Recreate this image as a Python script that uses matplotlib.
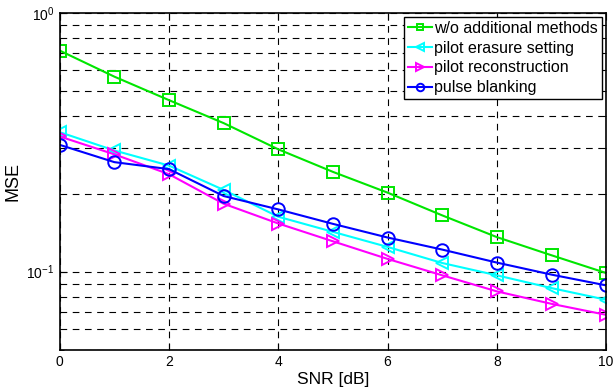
import numpy as np
import matplotlib
matplotlib.use('Agg')
import matplotlib.pyplot as plt
from matplotlib.ticker import LogLocator, NullFormatter

plt.rcParams['font.family'] = ['Liberation Sans', 'DejaVu Sans']

snr = [0, 1, 2, 3, 4, 5, 6, 7, 8, 9, 10]
mse_plain = [0.715, 0.567, 0.460, 0.375, 0.297, 0.243, 0.202, 0.165, 0.136, 0.1157, 0.0988]
mse_erasure = [0.346, 0.294, 0.257, 0.207, 0.163, 0.1425, 0.1246, 0.108, 0.0968, 0.0864, 0.0779]
mse_recon = [0.333, 0.284, 0.238, 0.183, 0.1535, 0.131, 0.112, 0.0968, 0.0839, 0.0751, 0.0681]
mse_blank = [0.309, 0.265, 0.249, 0.196, 0.174, 0.153, 0.1355, 0.1217, 0.1084, 0.0974, 0.0885]

labels = ['w/o additional methods', 'pilot erasure setting', 'pilot reconstruction', 'pulse blanking']

fig = plt.figure(figsize=(6.16, 3.91), dpi=100)
ax = fig.add_axes([0.097, 0.106, 0.887, 0.861])

ax.semilogy(snr, mse_plain, color='#00e600', marker='s', mfc='none', ms=8, mew=1.4, lw=1.5, label=labels[0])
ax.semilogy(snr, mse_erasure, color='#00ffff', marker='<', mfc='none', ms=9, mew=1.4, lw=1.5, label=labels[1])
ax.semilogy(snr, mse_recon, color='#ff00ff', marker='>', mfc='none', ms=9, mew=1.4, lw=1.5, label=labels[2])
ax.semilogy(snr, mse_blank, color='#0000ff', marker='o', mfc='none', ms=9, mew=1.4, lw=1.5, label=labels[3])

ax.set_xlim(0, 10)
ax.set_ylim(0.05, 1)
ax.set_xticks([0, 2, 4, 6, 8, 10])
ax.yaxis.set_major_locator(LogLocator(base=10, numticks=5))
ax.yaxis.set_minor_locator(LogLocator(base=10, subs=np.arange(2, 10), numticks=20))
ax.yaxis.set_minor_formatter(NullFormatter())

ax.grid(True, which='major', axis='x', color='black', ls=(0, (6, 5)), lw=0.8)
ax.grid(True, which='both', axis='y', color='black', ls=(0, (6, 5)), lw=0.8)

ax.tick_params(which='both', direction='in', top=True, right=True, labelsize=10)
ax.tick_params(which='major', length=5, pad=4)
ax.tick_params(which='minor', length=3)
for s in ax.spines.values():
    s.set_linewidth(1.2)

ax.set_xlabel('SNR [dB]', fontsize=12.5, labelpad=2)
ax.set_ylabel('MSE', fontsize=13, labelpad=3)

leg = ax.legend(loc='upper right', fontsize=11.5, fancybox=False, edgecolor='black',
                framealpha=1, borderaxespad=0.25, handlelength=1.5, handletextpad=0.15,
                labelspacing=0.3, borderpad=0.25, markerscale=0.6)
leg.get_frame().set_linewidth(1.0)

fig.savefig('out.png', dpi=100)
